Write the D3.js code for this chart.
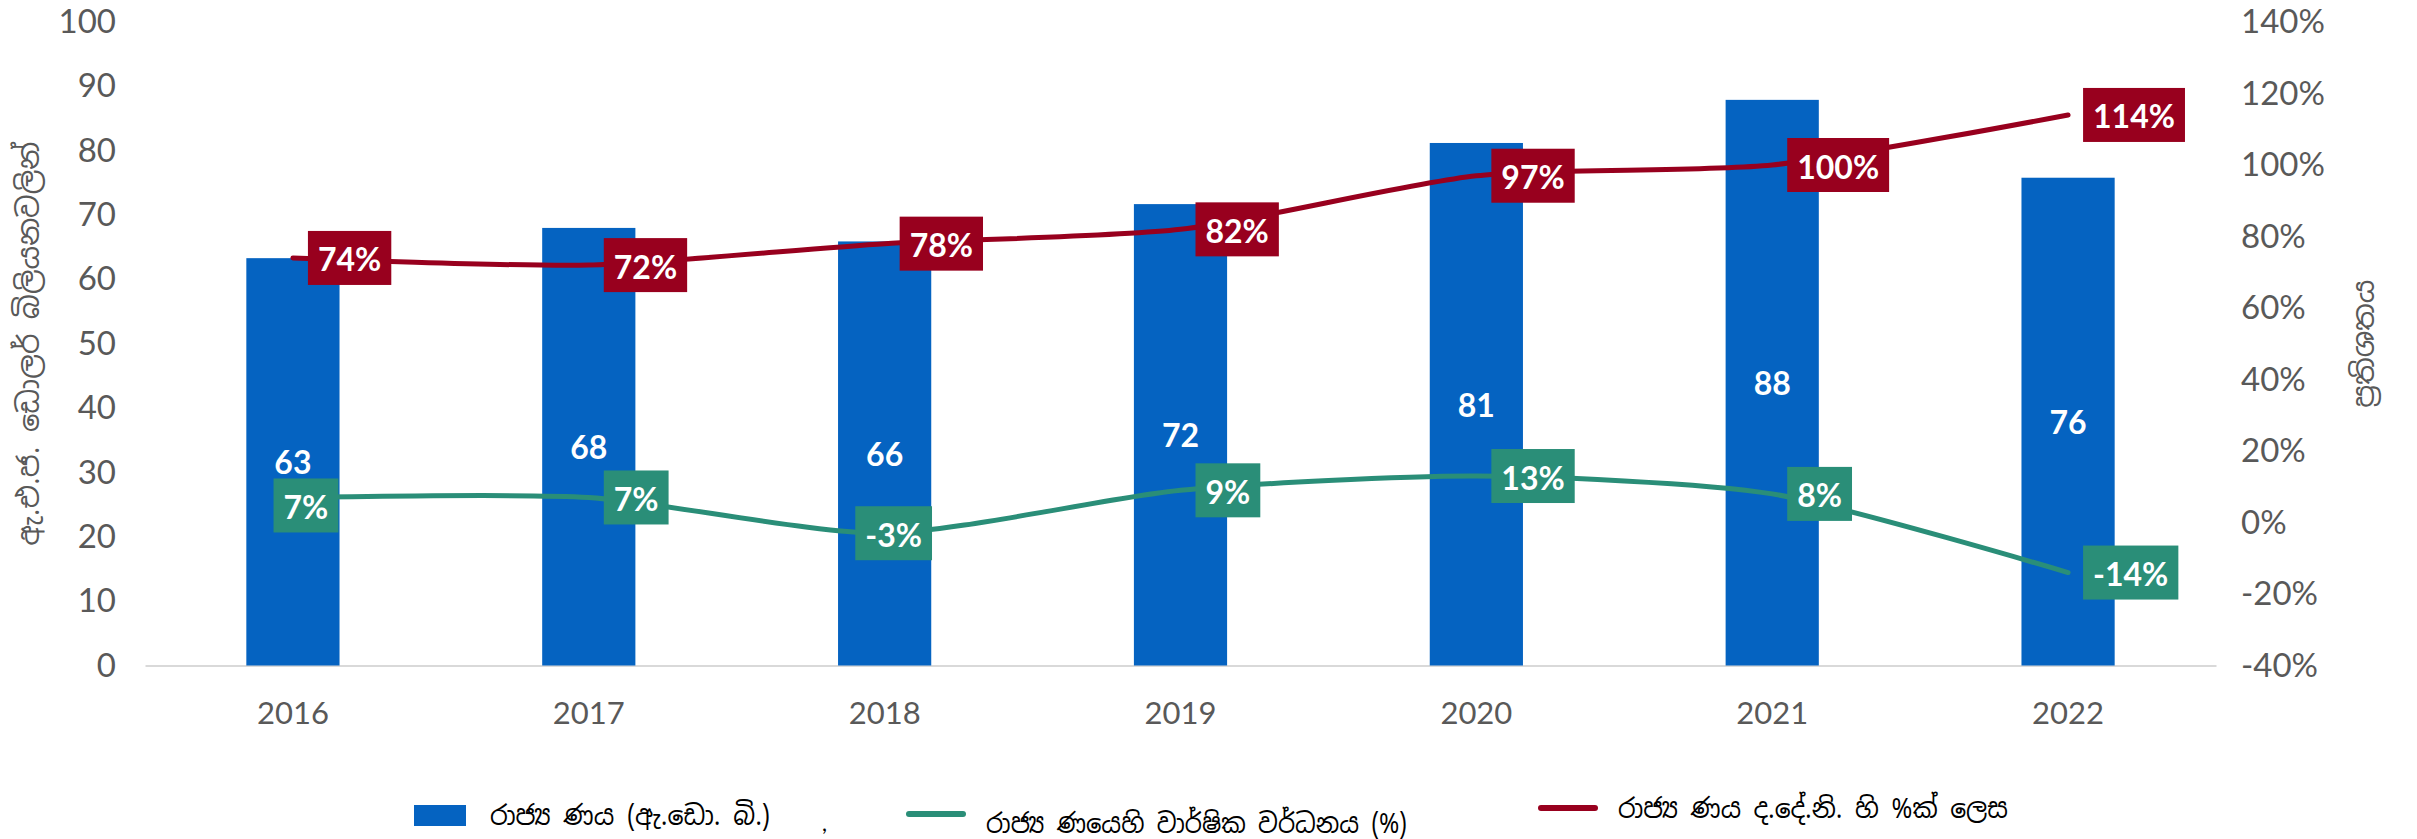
<!DOCTYPE html>
<html>
<head>
<meta charset="utf-8">
<script src="https://cdn.jsdelivr.net/npm/d3@7"></script>
<style>
  html, body { margin: 0; padding: 0; background: #ffffff; }
  svg { display: block; }
  .num { font-family: Lato, "Open Sans", "Noto Sans", sans-serif; }
  .si { font-family: "Noto Sans Sinhala", "Iskoola Pota", "Noto Serif Sinhala", "Noto Sans", sans-serif; }
</style>
</head>
<body>
<svg id="chart" width="2417" height="839"></svg>
<script>
// Years on the category axis
const years = ["2016", "2017", "2018", "2019", "2020", "2021", "2022"];
// Government debt, USD billions
const debtUSD = [63.3, 68.0, 65.9, 71.7, 81.2, 87.9, 75.8];
// Annual growth of government debt, %
const debtGrowth = [7, 7, -3, 9, 13, 8, -14];
// Government debt as a share of GDP, %
const debtToGDP = [74, 72, 78, 82, 97, 100, 114];
// Axis ticks
const leftTicks = [0, 10, 20, 30, 40, 50, 60, 70, 80, 90, 100];
const rightTicks = [-40, -20, 0, 20, 40, 60, 80, 100, 120, 140];

// Text
const leftTitle = "ඇ.එ.ජ. ඩොලර් බිලියනවලින්";
const rightTitle = "ප්‍රතිශතය";
const legendNames = [
  "රාජ්‍ය ණය (ඇ.ඩො. බි.)",
  "රාජ්‍ය ණයෙහි වාර්ෂික වර්ධනය (%)",
  "රාජ්‍ය ණය ද.දේ.නි. හි %ක් ලෙස"
];

const colors = { bar: "#0563c1", growth: "#2a8e78", ratio: "#98001e", axis: "#595959", grid: "#d9d9d9" };

const svg = d3.select("#chart");

const plot = { left: 145, right: 2216, top: 22, bottom: 665.5 };

const x = d3.scaleBand().domain(years).range([plot.left, plot.right]);
const yL = d3.scaleLinear().domain([0, 100]).range([plot.bottom, plot.top]);
const yR = d3.scaleLinear().domain([-40, 140]).range([plot.bottom, plot.top]);
const cx = y => x(y) + x.bandwidth() / 2;
const barW = x.bandwidth() * 0.315;

// Axes
const gx = svg.append("g").attr("transform", `translate(0,${plot.bottom})`)
  .call(d3.axisBottom(x).tickSize(0).tickSizeOuter(0).tickPadding(36));
gx.select(".domain").attr("stroke", colors.grid).attr("stroke-width", 2);
gx.selectAll("text").attr("class", "num").attr("font-size", 31).attr("fill", colors.axis);

const gl = svg.append("g").attr("transform", `translate(${plot.left},0)`)
  .call(d3.axisLeft(yL).tickValues(leftTicks).tickSize(0).tickPadding(29));
gl.select(".domain").remove();
gl.selectAll("text").attr("class", "num").attr("font-size", 33).attr("fill", colors.axis);

const gr = svg.append("g").attr("transform", `translate(${plot.right},0)`)
  .call(d3.axisRight(yR).tickValues(rightTicks).tickSize(0).tickPadding(25).tickFormat(d => d + "%"));
gr.select(".domain").remove();
gr.selectAll("text").attr("class", "num").attr("font-size", 33).attr("fill", colors.axis);

// Axis titles
svg.append("text").attr("class", "si")
  .attr("transform", `translate(28,${(plot.top + plot.bottom) / 2}) rotate(-90)`)
  .attr("text-anchor", "middle").attr("dominant-baseline", "central")
  .attr("font-size", 29).attr("fill", colors.axis).text(leftTitle);
svg.append("text").attr("class", "si")
  .attr("transform", `translate(2363,${(plot.top + plot.bottom) / 2}) rotate(-90)`)
  .attr("text-anchor", "middle").attr("dominant-baseline", "central")
  .attr("font-size", 29).attr("fill", colors.axis).text(rightTitle);

// Bars
svg.append("g").selectAll("rect").data(debtUSD).join("rect")
  .attr("x", (d, i) => cx(years[i]) - barW / 2)
  .attr("width", barW)
  .attr("y", d => yL(d))
  .attr("height", d => yL(0) - yL(d))
  .attr("fill", colors.bar);

// Bar value labels, centred in each bar
svg.append("g").selectAll("text").data(debtUSD).join("text")
  .attr("class", "num")
  .attr("x", (d, i) => cx(years[i]))
  .attr("y", d => (yL(d) + yL(0)) / 2)
  .attr("text-anchor", "middle").attr("dominant-baseline", "central")
  .attr("font-size", 32).attr("font-weight", 700).attr("fill", "#ffffff")
  .text(d => d3.format(".0f")(d));

// Lines
const lineL = d3.line().curve(d3.curveCardinal.tension(0.3));
function drawLine(values, color) {
  svg.append("path")
    .datum(values.map((v, i) => [cx(years[i]), yR(v)]))
    .attr("d", lineL)
    .attr("fill", "none").attr("stroke", color)
    .attr("stroke-width", 5).attr("stroke-linecap", "round").attr("stroke-linejoin", "round");
}
drawLine(debtGrowth, colors.growth);
drawLine(debtToGDP, colors.ratio);

// Boxed labels: placed to the right of the point unless a shift [dx, dy] of the box centre is given
const growthLabelShift = [[13, 8], null, [9, 0], null, null, null, null];
const ratioLabelShift = [null, null, null, null, null, null, null];

function drawBoxLabels(values, color, shifts) {
  const g = svg.append("g");
  values.forEach((v, i) => {
    const px = cx(years[i]), py = yR(v);
    const lg = g.append("g");
    const box = lg.append("rect").attr("fill", color);
    const t = lg.append("text").attr("class", "num")
      .attr("text-anchor", "middle").attr("dominant-baseline", "central")
      .attr("font-size", 32).attr("font-weight", 700).attr("fill", "#ffffff")
      .text(v + "%");
    const w = t.node().getComputedTextLength() + 20, h = 54;
    let bx, by;
    if (shifts[i]) { bx = px + shifts[i][0]; by = py + shifts[i][1]; }
    else { bx = px + 15 + w / 2; by = py; }
    box.attr("x", bx - w / 2).attr("y", by - h / 2).attr("width", w).attr("height", h);
    t.attr("x", bx).attr("y", by + 1);
  });
}
drawBoxLabels(debtGrowth, colors.growth, growthLabelShift);
drawBoxLabels(debtToGDP, colors.ratio, ratioLabelShift);

// Legend
const legend = svg.append("g");
const legendText = (txt, x0, y0, len) => legend.append("text").attr("class", "si")
  .attr("x", x0).attr("y", y0).attr("dominant-baseline", "central")
  .attr("font-size", 27).attr("fill", "#000")
  .attr("textLength", len).attr("lengthAdjust", "spacingAndGlyphs")
  .text(txt);

legend.append("rect").attr("x", 414).attr("y", 805).attr("width", 52).attr("height", 21).attr("fill", colors.bar);
legendText(legendNames[0], 490, 815, 280);
legend.append("text").attr("class", "num").attr("x", 822).attr("y", 822)
  .attr("dominant-baseline", "central").attr("font-size", 22).attr("fill", "#000").text(",");
legend.append("line").attr("x1", 909).attr("x2", 963).attr("y1", 814).attr("y2", 814)
  .attr("stroke", colors.growth).attr("stroke-width", 6).attr("stroke-linecap", "round");
legendText(legendNames[1], 986, 823, 421);
legend.append("line").attr("x1", 1541).attr("x2", 1595).attr("y1", 808).attr("y2", 808)
  .attr("stroke", colors.ratio).attr("stroke-width", 6).attr("stroke-linecap", "round");
legendText(legendNames[2], 1618, 808, 390);
</script>
</body>
</html>
